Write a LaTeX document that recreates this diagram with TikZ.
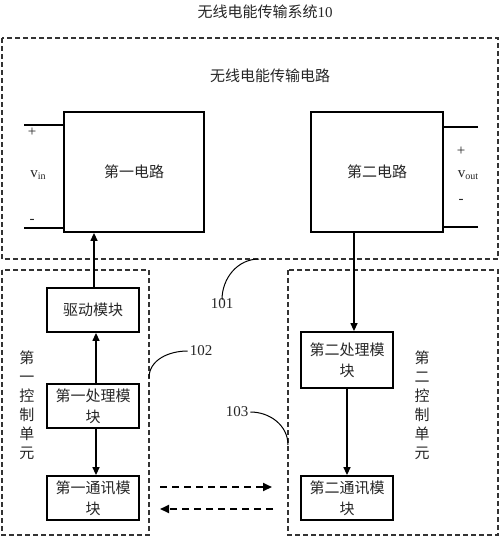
\documentclass[tikz,border=0pt]{standalone}
\usepackage{fontspec}
\setmainfont{Liberation Serif}
\newfontfamily\cjk{Noto Sans CJK SC}
\usetikzlibrary{arrows.meta,calc}
\tikzset{
  txt/.style={font=\fontsize{15}{19}\selectfont, text=black!85, inner sep=0pt},
  blk/.style={draw, line width=1.8pt, minimum width=92pt, minimum height=44pt, inner sep=0pt, align=center, font=\fontsize{15}{21}\selectfont\cjk, text=black!85},
  circ/.style={draw, line width=1.8pt, minimum height=120pt, inner sep=0pt, font=\fontsize{15}{19}\selectfont\cjk, text=black!85},
  grp/.style={draw=black!80, line width=1.2pt, dash pattern=on 5pt off 3pt},
  arr/.style={line width=1.3pt, -{Triangle[length=8pt,width=7pt]}},
  darr/.style={line width=2pt, dash pattern=on 7pt off 5pt, -{Triangle[length=9pt,width=8pt]}},
  term/.style={line width=1.8pt},
  lead/.style={line width=1pt}
}
\begin{document}
\begin{tikzpicture}[x=1pt,y=-1pt]
\useasboundingbox (0,0) rectangle (500,538);
% title
\node[txt] (title) at (265,12) {{\cjk 无线电能传输系统}10};
% outer dashed box
\draw[grp] (2,38) rectangle (498,259);
\node[txt,font=\fontsize{15}{19}\selectfont\cjk] (wpt) at (270,76) {无线电能传输电路};
% circuits
\node[circ, minimum width=140pt] (circ1) at (134,172) {第一电路};
\node[circ, minimum width=132pt] (circ2) at (377,172) {第二电路};
% terminals
\coordinate (inp) at (24,125);
\coordinate (inn) at (24,228);
\coordinate (outp) at (478,127);
\coordinate (outn) at (478,227);
\draw[term] (inp) -- (inp -| circ1.west);
\draw[term] (inn) -- (inn -| circ1.west);
\draw[term] (outp) -- (outp -| circ2.east);
\draw[term] (outn) -- (outn -| circ2.east);
\node[txt] (plin) at (32,132) {+};
\node[txt] (mnin) at (32,221) {-};
\node[txt] (vin) at (38,175) {v\raisebox{-0.35ex}{\fontsize{10}{10}\selectfont in}};
\node[txt] (plout) at (461,151) {+};
\node[txt] (mnout) at (461,201) {-};
\node[txt] (vout) at (468,175) {v\raisebox{-0.35ex}{\fontsize{10}{10}\selectfont out}};
% control unit groups
\draw[grp] (2,270) rectangle (149,535);
\draw[grp] (288,270) rectangle (498,535);
\node[txt,font=\fontsize{15}{19}\selectfont\cjk,align=center] (cu1) at (27,405) {第\\一\\控\\制\\单\\元};
\node[txt,font=\fontsize{15}{19}\selectfont\cjk,align=center] (cu2) at (422,405) {第\\二\\控\\制\\单\\元};
% blocks
\node[blk] (drv) at (93,310) {驱动模块};
\node[blk] (p1) at (93,406) {第一处理模\\块};
\node[blk] (c1) at (93,498) {第一通讯模\\块};
\node[blk, minimum height=56pt] (p2) at (347,360) {第二处理模\\块};
\node[blk] (c2) at (347,498) {第二通讯模\\块};
% arrows
\draw[arr] ([xshift=1pt]drv.north) -- ([xshift=1pt]drv.north |- circ1.south);
\draw[arr] ([xshift=3pt]p1.north) -- ([xshift=3pt]drv.south);
\draw[arr] ([xshift=3pt]p1.south) -- ([xshift=3pt]c1.north);
\draw[arr] ([xshift=-23pt]circ2.south) -- ([xshift=7pt]p2.north);
\draw[arr] (p2.south) -- (c2.north);
% dashed communication arrows
\coordinate (dl1) at (160,487);
\coordinate (dr1) at (272,487);
\coordinate (dl2) at (160,509);
\coordinate (dr2) at (273,509);
\draw[darr] (dl1) -- (dr1);
\draw[darr] (dr2) -- (dl2);
% reference labels
\node[txt] (n101) at (222,304) {101};
\node[txt] (n102) at (201,351) {102};
\node[txt] (n103) at (237,412) {103};
\coordinate (e101) at (259,259);
\coordinate (e102) at (149,378);
\coordinate (e103) at (288,445);
\draw[lead] ([yshift=-1pt]n101.north) to[out=90,in=180] (e101);
\draw[lead] ([xshift=-2pt]n102.west) to[out=180,in=90] (e102);
\draw[lead] ([xshift=2pt]n103.east) to[out=0,in=90] (e103);
\end{tikzpicture}
\end{document}
